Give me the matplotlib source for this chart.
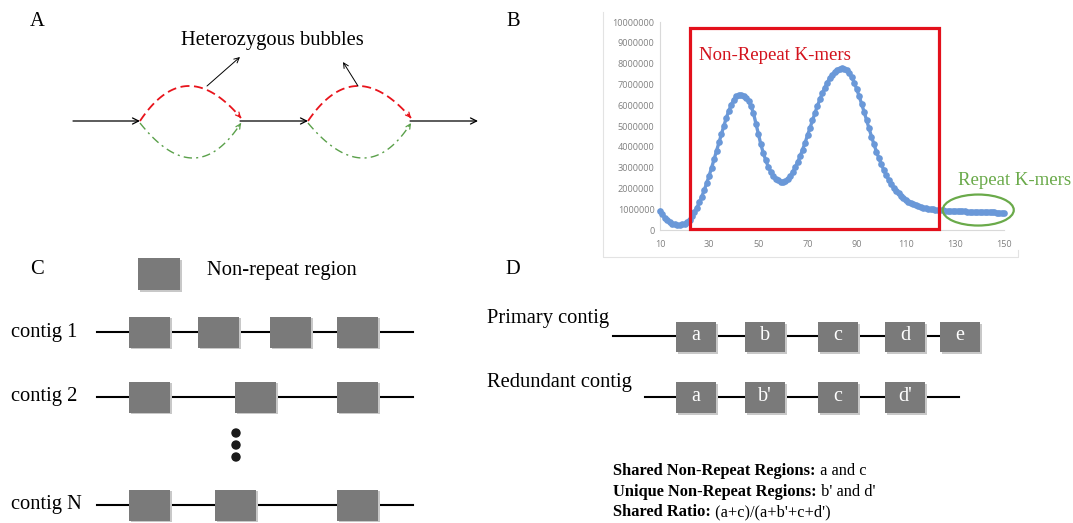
import matplotlib
matplotlib.use("Agg")
import matplotlib.pyplot as plt
from matplotlib.patches import Rectangle, Ellipse
import numpy as np

W, H = 1073, 523
SERIF = ["Liberation Serif", "DejaVu Serif"]
LABEL_SIZE = 14.8

# ---- Panel B data: k-mer depth histogram -------------------------------
depth = list(range(10, 151))
count_millions = [
    0.93, 0.75, 0.60, 0.48, 0.38, 0.31, 0.27, 0.25, 0.25, 0.27,   # 10-19
    0.31, 0.38, 0.50, 0.66, 0.86, 1.08, 1.33, 1.61, 1.92, 2.26,   # 20-29
    2.62, 3.00, 3.40, 3.80, 4.21, 4.62, 5.02, 5.40, 5.74, 6.03,   # 30-39
    6.26, 6.42, 6.50, 6.48, 6.42, 6.33, 6.20, 5.95, 5.62, 5.12,   # 40-49
    4.60, 4.12, 3.70, 3.35, 3.05, 2.80, 2.61, 2.47, 2.38, 2.33,   # 50-59
    2.32, 2.36, 2.45, 2.60, 2.79, 3.02, 3.28, 3.56, 3.87, 4.20,   # 60-69
    4.55, 4.91, 5.27, 5.62, 5.96, 6.28, 6.58, 6.85, 7.09, 7.30,   # 70-79
    7.47, 7.60, 7.70, 7.76, 7.78, 7.76, 7.70, 7.55, 7.34, 7.08,   # 80-89
    6.77, 6.43, 6.06, 5.68, 5.28, 4.88, 4.49, 4.12, 3.77, 3.45,   # 90-99
    3.15, 2.88, 2.63, 2.41, 2.21, 2.04, 1.89, 1.76, 1.64, 1.53,   # 100-109
    1.44, 1.36, 1.29, 1.23, 1.18, 1.14, 1.11, 1.08, 1.05, 1.03,   # 110-119
    1.01, 0.99, 0.97, 0.96, 0.95, 0.94, 0.93, 0.92, 0.92, 0.91,   # 120-129
    0.91, 0.90, 0.90, 0.89, 0.89, 0.88, 0.88, 0.88, 0.87, 0.87,   # 130-139
    0.87, 0.86, 0.86, 0.86, 0.85, 0.85, 0.85, 0.84, 0.84, 0.84,   # 140-149
    0.83,                                                         # 150
]
kmer_count = [v * 1e6 for v in count_millions]
x_ticks = [10, 30, 50, 70, 90, 110, 130, 150]
y_ticks = list(range(0, 10_000_001, 1_000_000))
non_repeat_span = (22.2, 123.5)          # depth range boxed as non-repeat
non_repeat_top = 9.7e6
repeat_center = (139.4, 0.96e6)

# ---- Panel C / D labels ------------------------------------------------
contig_names = ["contig 1", "contig 2", "contig N"]
primary_labels = ["a", "b", "c", "d", "e"]
redundant_labels = ["a", "b'", "c", "d'"]
summary = [
    ("Shared Non-Repeat Regions:", " a and c"),
    ("Unique Non-Repeat Regions:", " b' and d'"),
    ("Shared Ratio:", " (a+c)/(a+b'+c+d')"),
]

BOX_GRAY = "#7a7a7a"
SHADOW = "#c8c8c8"

fig = plt.figure(figsize=(W / 100, H / 100), dpi=100)
ax = fig.add_axes([0, 0, 1, 1])
ax.set_xlim(0, W)
ax.set_ylim(H, 0)
ax.axis("off")


def label(x, y, s, size=LABEL_SIZE, **kw):
    kw.setdefault("ha", "left")
    kw.setdefault("va", "center")
    return ax.text(x, y, s, fontsize=size, family=SERIF, **kw)


def gray_box(x0, x1, y0, y1, text=None):
    ax.add_patch(Rectangle((x0 + 1.5, y0 + 1.5), x1 - x0, y1 - y0,
                           facecolor=SHADOW, edgecolor="none", zorder=3))
    ax.add_patch(Rectangle((x0, y0), x1 - x0, y1 - y0,
                           facecolor=BOX_GRAY, edgecolor="none", zorder=4))
    if text is not None:
        label((x0 + x1) / 2, (y0 + y1) / 2 - 1, text, size=14.5,
              color="white", ha="center", zorder=5)


def arrow(p_from, p_to, color="black", lw=0.9, scale=11):
    ax.annotate("", xy=p_to, xytext=p_from,
                arrowprops=dict(arrowstyle="->", color=color, lw=lw,
                                mutation_scale=scale, shrinkA=0, shrinkB=0))


def bubble(p0, peak, p2, color, ls, lw):
    p0, peak, p2 = map(np.asarray, (p0, peak, p2))
    p1 = 2 * peak - 0.5 * (p0 + p2)
    t = np.linspace(0, 1, 80)[:, None]
    pts = (1 - t) ** 2 * p0 + 2 * (1 - t) * t * p1 + t ** 2 * p2
    ax.plot(pts[:, 0], pts[:, 1], color=color, ls=ls, lw=lw,
            solid_capstyle="butt")
    d = p2 - p1
    d = d / np.hypot(*d)
    arrow(tuple(p2 - 4 * d), tuple(p2), color=color, lw=0.9, scale=8)


# ---- Panel A -------------------------------------------------------------
label(37, 22, "A", ha="center")
label(272, 40, "Heterozygous bubbles", ha="center")
arrow((73, 121), (140, 121))
arrow((240, 121), (308, 121))
arrow((410, 121), (478, 121))
RED_DASH = (0, (5, 2.5))
GREEN_DASHDOT = (0, (6, 3, 1.5, 3))
bubble((140, 121), (188, 86), (241, 118), "#e8141c", RED_DASH, 1.3)
bubble((140, 123), (193, 158), (241, 123), "#5aa04a", GREEN_DASHDOT, 1.0)
bubble((308, 121), (357, 86), (411, 118), "#e8141c", RED_DASH, 1.3)
bubble((308, 123), (363, 158), (411, 123), "#5aa04a", GREEN_DASHDOT, 1.0)
arrow((207, 86), (240, 57), lw=0.7, scale=9)
arrow((358, 86), (343, 62), lw=0.7, scale=9)

# ---- Panel B frame and label ------------------------------------------
label(513, 22, "B", ha="center")
ax.plot([603, 603, 1018, 1018], [12, 257, 257, 250], color="#e3e3e3", lw=0.8)

# ---- Panel C -------------------------------------------------------------
label(37, 270, "C", ha="center")
gray_box(138, 180, 258, 290)
label(207, 270, "Non-repeat region")

contig_rows = [
    (332, [129, 198, 270, 337]),
    (397, [129, 235, 337]),
    (505, [129, 215, 337]),
]
for name, (yc, starts) in zip(contig_names, contig_rows):
    label(11, yc, name)
    ax.plot([97, 413], [yc, yc], color="black", lw=1.5, zorder=2)
    for x0 in starts:
        gray_box(x0, x0 + 41, yc - 15.5, yc + 15.5)
for yd in (433, 445, 457):
    ax.add_patch(plt.Circle((236, yd), 4, color="#1a1a1a", zorder=4))

# ---- Panel D -------------------------------------------------------------
label(513, 270, "D", ha="center")
label(487, 319, "Primary contig")
ax.plot([613, 940], [336, 336], color="black", lw=1.5, zorder=2)
for x0, t in zip([676, 745, 818, 885, 940], primary_labels):
    gray_box(x0, x0 + 40, 322, 352, t)

label(487, 382, "Redundant contig")
ax.plot([645, 959], [397, 397], color="black", lw=1.5, zorder=2)
for x0, t in zip([676, 745, 818, 885], redundant_labels):
    gray_box(x0, x0 + 40, 382, 413, t)

renderer = fig.canvas.get_renderer()
inv = ax.transData.inverted()
for (bold_part, plain_part), yc in zip(summary, [471, 492, 512]):
    tb = label(613, yc, bold_part, size=11.8, weight="bold")
    bb = tb.get_window_extent(renderer=renderer)
    x_end = inv.transform((bb.x1, bb.y0))[0]
    label(x_end, yc, plain_part, size=11.8)

# ---- Panel B chart -------------------------------------------------------
x0_px, x1_px, ytop_px, ybot_px = 660, 1004.3, 22, 230
bx = fig.add_axes([x0_px / W, 1 - ybot_px / H,
                   (x1_px - x0_px) / W, (ybot_px - ytop_px) / H])
bx.patch.set_alpha(0)
bx.plot(depth, kmer_count, color="#6a98d8", lw=2.4, marker="o",
        markersize=4.8, markeredgewidth=0, clip_on=False, zorder=3)
bx.set_xlim(10, 150)
bx.set_ylim(0, 1e7)
bx.set_xticks(x_ticks)
bx.set_yticks(y_ticks)
bx.set_yticklabels([str(v) for v in y_ticks])
bx.tick_params(length=0, labelsize=6.6, colors="#808080", pad=4)
bx.tick_params(axis="x", pad=7)
for lab in bx.get_xticklabels() + bx.get_yticklabels():
    lab.set_family(["Open Sans", "DejaVu Sans"])
for s in ("top", "right"):
    bx.spines[s].set_visible(False)
for s in ("left", "bottom"):
    bx.spines[s].set_color("#d9d9d9")
    bx.spines[s].set_linewidth(0.8)

bx.add_patch(Rectangle((non_repeat_span[0], 0.03e6),
                       non_repeat_span[1] - non_repeat_span[0],
                       non_repeat_top - 0.03e6,
                       facecolor="none", edgecolor="#e3101b", lw=2.3,
                       clip_on=False, zorder=4))
bx.text(non_repeat_span[0] + 3.6, 8.4e6, "Non-Repeat K-mers", color="#d3121c",
        fontsize=13.5, family=SERIF, va="center", ha="left")
bx.add_patch(Ellipse(repeat_center, 28.9, 1.49e6, facecolor="none",
                     edgecolor="#6aaa4a", lw=1.6, clip_on=False, zorder=4))
bx.text(131.2, 2.4e6, "Repeat K-mers", color="#6aaa4a", fontsize=13.5,
        family=SERIF, va="center", ha="left", clip_on=False)

fig.savefig("out.png", dpi=100)
